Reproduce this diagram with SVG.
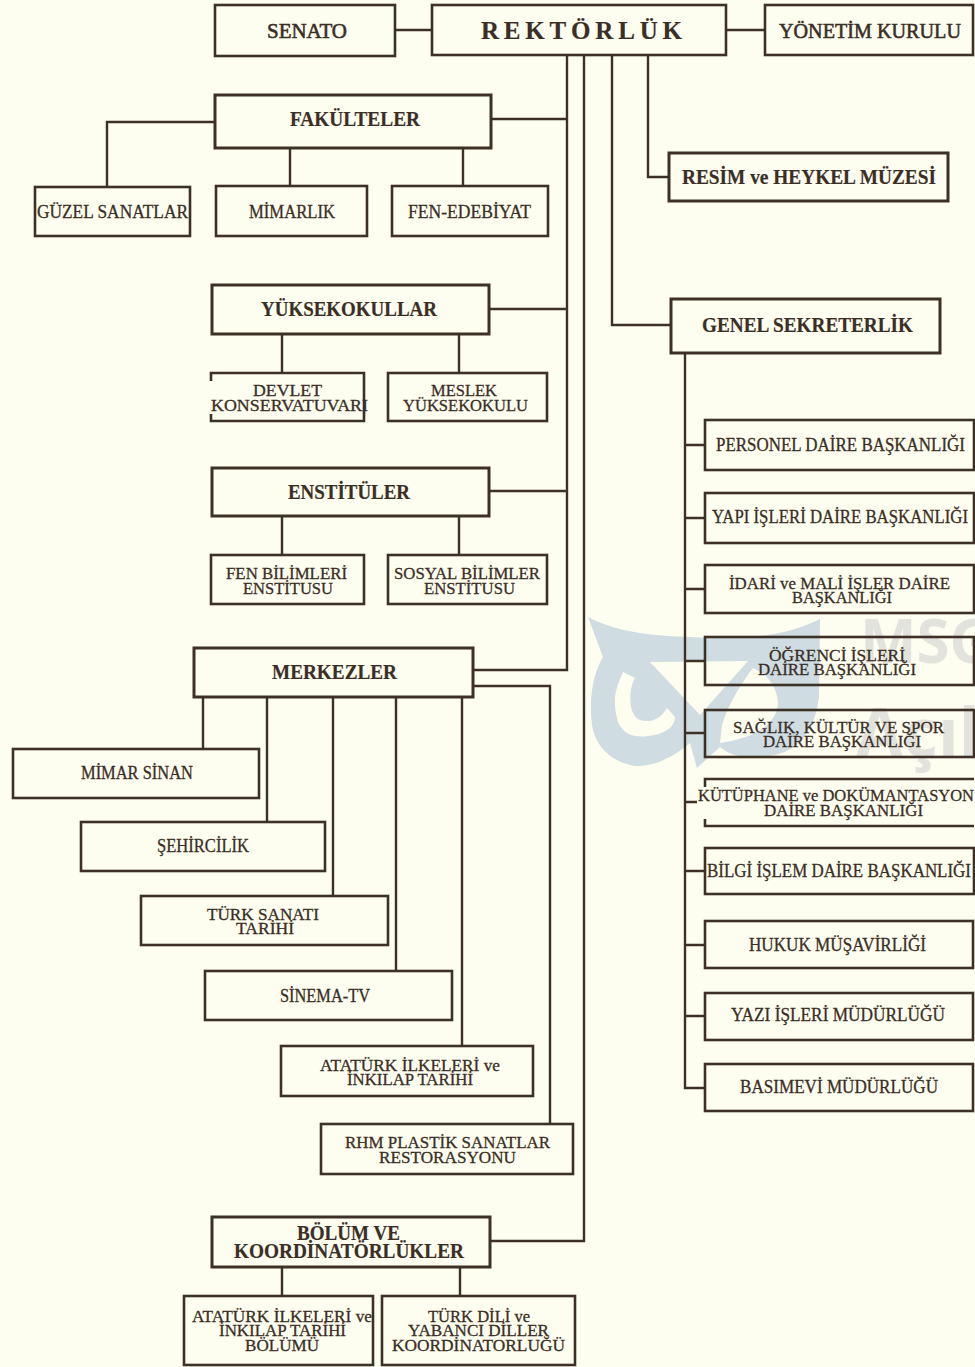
<svg xmlns="http://www.w3.org/2000/svg" width="975" height="1367" viewBox="0 0 975 1367">
<style>
.box{fill:none;stroke:#3d3025;stroke-width:2.6;stroke-linejoin:miter}
.thick{stroke-width:3}
.con{fill:none;stroke:#3d3025;stroke-width:2.4}
text{font-family:"Liberation Serif","Times New Roman",serif;fill:#3a2e25;stroke:#3a2e25;stroke-width:.3;font-size:17.5px}
text.s{font-size:18.5px}
text.l{font-size:22px;stroke-width:.6}
text.b{font-weight:bold;font-size:21px;stroke-width:.2}
text.r{font-size:25px}
text.wm{font-family:"Open Sans","Liberation Sans",sans-serif;font-weight:700;fill:#e2e3dc;stroke:none}
text.m1{font-size:60px}
text.m2{font-size:68px}
</style>
<rect width="975" height="1367" fill="#fefef0"/>
<g id="watermark">
<path fill="#cfdce2" fill-rule="evenodd" d="M588 617C620 634 660 636 690 637C750 640 785 636 820 619L819 697C815 730 800 745 785 752C760 760 735 760 720 747L697 768L690 743C670 760 650 767 635 766C610 762 595 745 592 725C588 695 595 670 603 657ZM623 672C615 690 612 700 618 722C625 738 640 738 655 735C668 732 675 725 675 717L667 708C660 720 650 723 640 720C628 716 628 690 635 678ZM650 662L748 661L700 715ZM753 668C770 675 778 690 778 705C775 725 755 738 720 743L722 725C728 705 740 685 753 668Z"/>
<text class="wm m1" x="860" y="663">MSG</text>
<text class="wm m2" x="856" y="757">Açık</text>
</g>
<g id="connectors" class="con">
<path d="M395 30H432M726 30H765"/>
<path d="M567 55V670H473M491 119H567M489 309H567M489 491H567"/>
<path d="M584 55V1241H490"/>
<path d="M612 55V325H671"/>
<path d="M648 55V177H669"/>
<path d="M215 122H107V187M290 148V186M463 148V186"/>
<path d="M282 334V373M459 334V373M282 516V555M459 516V555"/>
<path d="M685 353V1088H705M685 445H705M685 518H705M685 589H705M685 661H705M685 733H705M685 802H697M685 871H705M685 945H705M685 1016H705"/>
<path d="M203 697V749M267 697V822M333 697V896M396 697V971M462 697V1046M473 686H550V1124"/>
<path d="M282 1267V1296M460 1267V1296"/>
</g>
<g id="senato"><rect class="box" x="215" y="5" width="180" height="51"/><text class="l" x="267" y="38" textLength="80" lengthAdjust="spacingAndGlyphs">SENATO</text></g>
<g id="rektorluk"><rect class="box" x="432" y="5" width="294" height="50"/><text class="b r" x="481" y="39" textLength="201">REKTÖRLÜK</text></g>
<g id="yonetim"><rect class="box" x="765" y="5" width="208" height="50"/><text class="l" x="779" y="38" textLength="182" lengthAdjust="spacingAndGlyphs">YÖNETİM KURULU</text></g>
<g id="fakulteler"><rect class="box thick" x="215" y="95" width="276" height="53"/><text class="b" x="290" y="126" textLength="130" lengthAdjust="spacingAndGlyphs">FAKÜLTELER</text></g>
<g id="guzel"><rect class="box" x="35" y="187" width="155" height="49"/><text class="s" x="37" y="218" textLength="151" lengthAdjust="spacingAndGlyphs">GÜZEL SANATLAR</text></g>
<g id="mimarlik"><rect class="box" x="216" y="186" width="151" height="50"/><text class="s" x="249" y="218" textLength="86" lengthAdjust="spacingAndGlyphs">MİMARLIK</text></g>
<g id="fen-edebiyat"><rect class="box" x="392" y="186" width="156" height="50"/><text class="s" x="408" y="218" textLength="123" lengthAdjust="spacingAndGlyphs">FEN-EDEBİYAT</text></g>
<g id="resim"><rect class="box thick" x="669" y="153" width="279" height="48"/><text class="b" x="682" y="184" textLength="254" lengthAdjust="spacingAndGlyphs">RESİM ve HEYKEL MÜZESİ</text></g>
<g id="yuksekokullar"><rect class="box thick" x="212" y="285" width="277" height="49"/><text class="b" x="261" y="316" textLength="176" lengthAdjust="spacingAndGlyphs">YÜKSEKOKULLAR</text></g>
<g id="devlet"><path class="box" d="M211 381V373H364V421H211V414"/><text x="253" y="396" textLength="69" lengthAdjust="spacingAndGlyphs">DEVLET</text><text x="211" y="411" textLength="157" lengthAdjust="spacingAndGlyphs">KONSERVATUVARI</text></g>
<g id="meslek"><rect class="box" x="388" y="373" width="159" height="48"/><text x="431" y="396" textLength="66" lengthAdjust="spacingAndGlyphs">MESLEK</text><text x="403" y="411" textLength="125" lengthAdjust="spacingAndGlyphs">YÜKSEKOKULU</text></g>
<g id="genel"><rect class="box thick" x="671" y="299" width="269" height="54"/><text class="b" x="702" y="332" textLength="211" lengthAdjust="spacingAndGlyphs">GENEL SEKRETERLİK</text></g>
<g id="enstituler"><rect class="box thick" x="212" y="468" width="277" height="48"/><text class="b" x="288" y="499" textLength="122" lengthAdjust="spacingAndGlyphs">ENSTİTÜLER</text></g>
<g id="fen-bil"><rect class="box" x="211" y="555" width="153" height="49"/><text x="226" y="579" textLength="121" lengthAdjust="spacingAndGlyphs">FEN BİLİMLERİ</text><text x="243" y="594" textLength="90" lengthAdjust="spacingAndGlyphs">ENSTİTUSU</text></g>
<g id="sosyal-bil"><rect class="box" x="388" y="555" width="159" height="49"/><text x="394" y="579" textLength="146" lengthAdjust="spacingAndGlyphs">SOSYAL BİLİMLER</text><text x="424" y="594" textLength="91" lengthAdjust="spacingAndGlyphs">ENSTİTUSU</text></g>
<g id="merkezler"><rect class="box thick" x="194" y="648" width="279" height="49"/><text class="b" x="272" y="679" textLength="125" lengthAdjust="spacingAndGlyphs">MERKEZLER</text></g>
<g id="mimar-sinan"><rect class="box" x="13" y="749" width="246" height="49"/><text class="s" x="81" y="779" textLength="112" lengthAdjust="spacingAndGlyphs">MİMAR SİNAN</text></g>
<g id="sehircilik"><rect class="box" x="81" y="822" width="244" height="49"/><text class="s" x="157" y="852" textLength="92" lengthAdjust="spacingAndGlyphs">ŞEHİRCİLİK</text></g>
<g id="turk-sanati"><rect class="box" x="141" y="896" width="247" height="49"/><text x="207" y="920" textLength="112" lengthAdjust="spacingAndGlyphs">TÜRK SANATI</text><text x="236" y="934" textLength="58" lengthAdjust="spacingAndGlyphs">TARİHİ</text></g>
<g id="sinema"><rect class="box" x="205" y="971" width="247" height="49"/><text class="s" x="280" y="1002" textLength="90" lengthAdjust="spacingAndGlyphs">SİNEMA-TV</text></g>
<g id="ataturk"><rect class="box" x="281" y="1046" width="252" height="50"/><text x="320" y="1071" textLength="180" lengthAdjust="spacingAndGlyphs">ATATÜRK İLKELERİ ve</text><text x="347" y="1085" textLength="126" lengthAdjust="spacingAndGlyphs">İNKILAP TARİHİ</text></g>
<g id="rhm"><rect class="box" x="321" y="1124" width="252" height="50"/><text x="345" y="1148" textLength="205" lengthAdjust="spacingAndGlyphs">RHM PLASTİK SANATLAR</text><text x="379" y="1163" textLength="137" lengthAdjust="spacingAndGlyphs">RESTORASYONU</text></g>
<g id="bolum"><rect class="box thick" x="212" y="1217" width="278" height="50"/><text class="b" x="297" y="1240" textLength="103" lengthAdjust="spacingAndGlyphs">BÖLÜM VE</text><text class="b" x="234" y="1258" textLength="230" lengthAdjust="spacingAndGlyphs">KOORDİNATÖRLÜKLER</text></g>
<g id="ataturk-bolumu"><rect class="box" x="184" y="1296" width="189" height="69"/><text x="192" y="1322" textLength="180" lengthAdjust="spacingAndGlyphs">ATATÜRK İLKELERİ ve</text><text x="219" y="1336" textLength="127" lengthAdjust="spacingAndGlyphs">İNKILAP TARİHİ</text><text x="245" y="1351" textLength="74" lengthAdjust="spacingAndGlyphs">BÖLÜMÜ</text></g>
<g id="turk-dili"><rect class="box" x="382" y="1296" width="193" height="69"/><text x="428" y="1322" textLength="102" lengthAdjust="spacingAndGlyphs">TÜRK DİLİ ve</text><text x="408" y="1336" textLength="141" lengthAdjust="spacingAndGlyphs">YABANCI DİLLER</text><text x="392" y="1351" textLength="173" lengthAdjust="spacingAndGlyphs">KOORDİNATORLUĞÜ</text></g>
<g id="personel"><rect class="box" x="705" y="420" width="269" height="50"/><text class="s" x="716" y="451" textLength="249" lengthAdjust="spacingAndGlyphs">PERSONEL DAİRE BAŞKANLIĞI</text></g>
<g id="yapi"><rect class="box" x="705" y="493" width="269" height="50"/><text class="s" x="712" y="523" textLength="256" lengthAdjust="spacingAndGlyphs">YAPI İŞLERİ DAİRE BAŞKANLIĞI</text></g>
<g id="idari"><rect class="box" x="705" y="565" width="269" height="48"/><text x="729" y="589" textLength="221" lengthAdjust="spacingAndGlyphs">İDARİ ve MALİ İŞLER DAİRE</text><text x="792" y="603" textLength="100" lengthAdjust="spacingAndGlyphs">BAŞKANLIĞI</text></g>
<g id="ogrenci"><rect class="box" x="705" y="637" width="269" height="48"/><text x="769" y="661" textLength="136" lengthAdjust="spacingAndGlyphs">ÖĞRENCİ İŞLERİ</text><text x="758" y="675" textLength="158" lengthAdjust="spacingAndGlyphs">DAİRE BAŞKANLIĞI</text></g>
<g id="saglik"><rect class="box" x="705" y="710" width="269" height="47"/><text x="733" y="733" textLength="211" lengthAdjust="spacingAndGlyphs">SAĞLIK, KÜLTÜR VE SPOR</text><text x="763" y="747" textLength="158" lengthAdjust="spacingAndGlyphs">DAİRE BAŞKANLIĞI</text></g>
<g id="kutuphane"><path class="box" d="M705 787V779H974M974 826H705V819"/><text x="698" y="801" textLength="276" lengthAdjust="spacingAndGlyphs">KÜTÜPHANE ve DOKÜMANTASYON</text><text x="764" y="816" textLength="159" lengthAdjust="spacingAndGlyphs">DAİRE BAŞKANLIĞI</text></g>
<g id="bilgi"><rect class="box" x="705" y="848" width="269" height="46"/><text class="s" x="707" y="877" textLength="264" lengthAdjust="spacingAndGlyphs">BİLGİ  İŞLEM DAİRE BAŞKANLIĞI</text></g>
<g id="hukuk"><rect class="box" x="705" y="921" width="268" height="47"/><text class="s" x="749" y="951" textLength="177" lengthAdjust="spacingAndGlyphs">HUKUK MÜŞAVİRLİĞİ</text></g>
<g id="yazi"><rect class="box" x="705" y="993" width="268" height="47"/><text class="s" x="731" y="1021" textLength="214" lengthAdjust="spacingAndGlyphs">YAZI İŞLERİ MÜDÜRLÜĞÜ</text></g>
<g id="basimevi"><rect class="box" x="705" y="1064" width="268" height="47"/><text class="s" x="740" y="1093" textLength="198" lengthAdjust="spacingAndGlyphs">BASIMEVİ MÜDÜRLÜĞÜ</text></g>
</svg>
